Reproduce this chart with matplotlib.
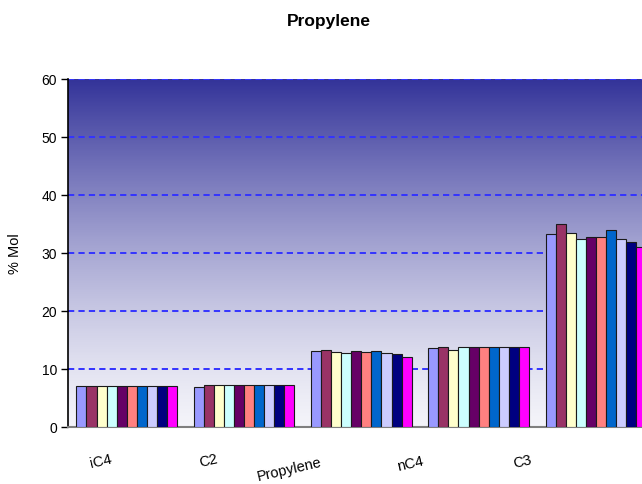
import numpy as np
import matplotlib
matplotlib.use("Agg")
import matplotlib.pyplot as plt
from matplotlib.transforms import ScaledTranslation
from matplotlib.colors import LinearSegmentedColormap

plt.rcParams["font.family"] = ["Liberation Sans", "DejaVu Sans"]
plt.rcParams["lines.scale_dashes"] = False

categories = ["iC4", "C2", "Propylene", "nC4", "C3"]

# % Mol of each component, one list per sample
s1 = [7.0, 6.9, 13.0, 13.6, 33.2]
s2 = [7.0, 7.2, 13.3, 13.8, 35.0]
s3 = [7.0, 7.2, 12.9, 13.3, 33.4]
s4 = [7.0, 7.2, 12.7, 13.8, 32.4]
s5 = [7.0, 7.2, 13.0, 13.8, 32.7]
s6 = [7.0, 7.2, 12.8, 13.8, 32.7]
s7 = [7.0, 7.2, 13.0, 13.8, 33.9]
s8 = [7.0, 7.2, 12.7, 13.8, 32.4]
s9 = [7.0, 7.2, 12.5, 13.8, 31.9]
s10 = [7.0, 7.2, 12.1, 13.8, 30.9]
samples = [s1, s2, s3, s4, s5, s6, s7, s8, s9, s10]

colors = ["#9999FF", "#993366", "#FFFFCC", "#CCFFFF", "#660066",
          "#FF8080", "#0066CC", "#CCCCFF", "#000080", "#FF00FF"]

y_ticks = [0, 10, 20, 30, 40, 50, 60]

fig = plt.figure(figsize=(6.42, 4.85), dpi=100)
ax = fig.add_axes([0.106, 0.118, 0.9136, 0.718])

x = np.arange(len(categories))
xlim = (-0.5, len(categories) - 0.5)
ax.set_xlim(*xlim)
ax.set_ylim(0, 60)

# vertical gradient fill of the plot area, darkening towards the top
grad = LinearSegmentedColormap.from_list("bg", ["#F3F3F9", "#333399"])
ramp = np.linspace(0, 1, 256) ** 1.35
ax.imshow(ramp.reshape(-1, 1), cmap=grad, origin="lower", vmin=0, vmax=1,
          extent=[xlim[0], xlim[1], 0, 60], aspect="auto", zorder=0,
          interpolation="bicubic")

for yv in y_ticks:
    ax.axhline(yv, color="#3333FF", lw=1.4, dashes=(4.5, 3.0), zorder=1)

n = len(samples)
bw = 0.0858
for k, (vals, c) in enumerate(zip(samples, colors)):
    ax.bar(x - n * bw / 2 + bw * (k + 0.5), vals, width=bw, color=c,
           edgecolor="#1a1a1a", linewidth=0.8, zorder=3)

ax.set_yticks(y_ticks)
ax.tick_params(axis="y", direction="out", length=5, width=1, labelsize=10,
               pad=3)
ax.set_xticks([])
ax.set_ylabel("% Mol", fontsize=10.5, labelpad=14)

for side in ("top", "right"):
    ax.spines[side].set_visible(False)
ax.spines["left"].set_color("black")
ax.spines["left"].set_linewidth(1.2)
ax.spines["bottom"].set_color("#7f7f7f")
ax.spines["bottom"].set_linewidth(1.5)

# category labels, slanted under each group
dx_px = [-26, -36, -72, -68, -74]
dy_px = [34, 33, 42, 36, 34]
for xi, lab, dx, dy in zip(x, categories, dx_px, dy_px):
    off = ScaledTranslation(dx / 100, -dy / 100, fig.dpi_scale_trans)
    ax.text(xi, 0, lab, transform=ax.get_xaxis_transform() + off,
            ha="center", va="center", rotation=13, fontsize=10.5)

fig.text(0.512, 0.955, "Propylene", ha="center", va="center",
         fontsize=12.5, fontweight="bold")

fig.savefig("out.png", dpi=100)
